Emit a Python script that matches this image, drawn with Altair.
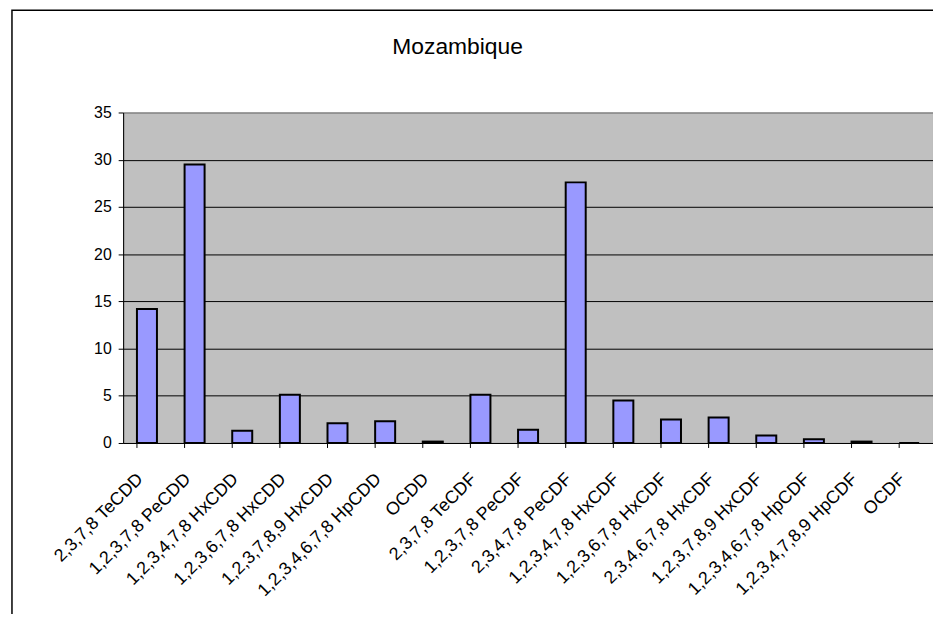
import altair as alt
import pandas as pd

categories = [
    "2,3,7,8 TeCDD", "1,2,3,7,8 PeCDD", "1,2,3,4,7,8 HxCDD", "1,2,3,6,7,8 HxCDD",
    "1,2,3,7,8,9 HxCDD", "1,2,3,4,6,7,8 HpCDD", "OCDD", "2,3,7,8 TeCDF",
    "1,2,3,7,8 PeCDF", "2,3,4,7,8 PeCDF", "1,2,3,4,7,8 HxCDF", "1,2,3,6,7,8 HxCDF",
    "2,3,4,6,7,8 HxCDF", "1,2,3,7,8,9 HxCDF", "1,2,3,4,6,7,8 HpCDF",
    "1,2,3,4,7,8,9 HpCDF", "OCDF",
]
values = [14.2, 29.5, 1.3, 5.1, 2.1, 2.3, 0.15, 5.1, 1.4, 27.6, 4.5, 2.5, 2.7, 0.8, 0.4, 0.15, 0.0]
y_ticks = [0, 5, 10, 15, 20, 25, 30, 35]

df = pd.DataFrame({"cat": categories, "val": values})

FONT = "Arial, Liberation Sans, sans-serif"
W, H = 816, 333

xscale = alt.Scale(domain=categories, paddingInner=0.58, paddingOuter=0.29)

bars = alt.Chart(df).mark_bar(
    fill="#9999FF", stroke="black", strokeWidth=2
).encode(
    x=alt.X("cat:N", scale=xscale, sort=categories,
            axis=alt.Axis(title=None, labelAngle=-45, labelFontSize=18, labelFont=FONT,
                          labelColor="black", ticks=False, domainColor="black",
                          labelPadding=27, labelOffset=-13, labelLimit=300)),
    y=alt.Y("val:Q", scale=alt.Scale(domain=[0, 35], nice=False),
            axis=alt.Axis(title=None, values=y_ticks, labelFontSize=16, labelFont=FONT,
                          labelColor="black", tickColor="black", tickSize=5,
                          domainColor="black", labelPadding=7,
                          grid=True,
                          gridColor=alt.condition("datum.value == 35", alt.value("#808080"), alt.value("black")),
                          gridWidth=1)),
)

xticks = alt.Chart(df).mark_rule(color="black", strokeWidth=1).encode(
    x=alt.X("cat:N", scale=xscale, sort=categories, bandPosition=0),
    y=alt.value(H),
    y2=alt.value(H + 5),
)

frame = alt.Chart(alt.Data(values=[{"a": 1}])).mark_rect(
    filled=False, stroke="black", strokeWidth=1.5
).encode(
    x=alt.value(-112), x2=alt.value(W + 50),
    y=alt.value(-103), y2=alt.value(H + 300),
)

chart = alt.layer(bars, xticks, frame).properties(
    width=W, height=H,
    background="white",
    title=alt.TitleParams("Mozambique", font=FONT, fontSize=23, fontWeight="normal",
                          color="black", anchor="middle", dx=-71, offset=-68,
                          baseline="alphabetic"),
    autosize=alt.AutoSizeParams(type="none"),
    padding={"left": 116, "top": 103, "right": 0, "bottom": 170},
).configure_view(
    fill="#C0C0C0", stroke="#808080", strokeWidth=1
)

chart.save("out.html", embed_options={"renderer": "svg", "actions": False})
